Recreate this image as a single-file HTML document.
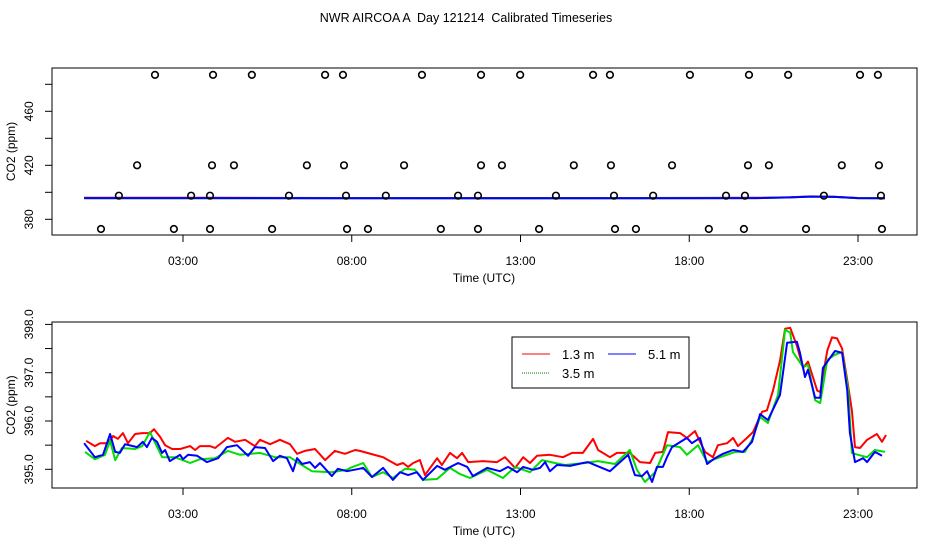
<!DOCTYPE html>
<html><head><meta charset="utf-8"><style>
html,body{margin:0;padding:0;background:#fff}
svg{display:block;font-family:"Liberation Sans",sans-serif}
</style></head><body>
<svg id="chart" width="936" height="540" viewBox="0 0 936 540" xmlns="http://www.w3.org/2000/svg">
<text x="466" y="22" font-size="12.5" text-anchor="middle" style="white-space:pre">NWR AIRCOA A  Day 121214  Calibrated Timeseries</text>
<g id="top"></g>
<g id="bot"></g>
</svg>
<script>
// ---- data ----
const xTickHours = [3, 8, 13, 18, 23];
const xTickLabels = ["03:00", "08:00", "13:00", "18:00", "23:00"];
const topYTicks = [380, 400, 420, 440, 460, 480];
const topYLabels = ["380", "", "420", "", "460", ""];
const botYTicks = [395.0, 395.5, 396.0, 396.5, 397.0, 397.5, 398.0];
const botYLabels = ["395.0", "", "396.0", "", "397.0", "", "398.0"];

const calT489 = [2.17,3.89,5.04,7.21,7.74,10.08,11.83,12.99,15.15,15.65,18.02,19.77,20.93,23.06,23.59];
const calT420 = [1.64,3.86,4.51,6.67,7.77,9.55,11.83,12.45,14.58,15.68,17.49,19.74,20.36,22.52,23.62];
const calT397 = [1.10,3.24,3.80,6.14,7.83,9.01,11.15,11.74,14.05,15.77,16.93,19.09,19.65,21.99,23.68];
const calT373 = [0.57,2.73,3.80,5.64,7.86,8.48,10.64,11.74,13.55,15.80,16.42,18.58,19.62,21.46,23.71];
const calLevels = [487, 420, 397.5, 372.8];

const topT = [0.07, 4, 8, 12, 16, 20, 21, 21.6, 22.3, 23, 23.8];
const topRed = [395.9, 395.9, 395.8, 395.8, 395.8, 395.9, 396.3, 397.0, 396.7, 395.8, 395.7];
const topGreen = [395.6, 395.6, 395.6, 395.5, 395.6, 395.7, 396.2, 396.9, 396.6, 395.6, 395.6];
const topBlue = [395.7, 395.7, 395.6, 395.6, 395.6, 395.7, 396.2, 396.8, 396.6, 395.7, 395.6];

const redT = [0.13,0.39,0.54,0.78,0.93,1.07,1.22,1.37,1.58,1.79,2.02,2.14,2.32,2.47,2.68,2.92,3.21,3.36,3.50,3.80,3.95,4.33,4.54,4.84,5.13,5.28,5.58,5.87,6.17,6.38,6.61,6.91,7.21,7.50,7.80,8.10,8.24,8.93,9.34,9.52,9.67,9.82,10.02,10.17,10.53,10.67,10.91,11.12,11.27,11.45,11.89,12.30,12.54,12.84,13.08,13.28,13.49,13.87,14.26,14.53,14.85,15.15,15.30,15.65,15.86,16.24,16.54,16.84,16.99,17.22,17.37,17.73,17.93,18.17,18.32,18.47,18.70,18.85,19.12,19.30,19.44,19.71,19.89,20.16,20.30,20.48,20.69,20.84,20.99,21.19,21.37,21.52,21.79,21.88,22.09,22.23,22.38,22.53,22.68,22.82,22.91,23.06,23.27,23.56,23.71,23.83];
const redV = [395.59,395.48,395.54,395.54,395.69,395.63,395.75,395.54,395.73,395.75,395.75,395.83,395.67,395.50,395.42,395.42,395.48,395.40,395.48,395.48,395.44,395.65,395.57,395.61,395.48,395.61,395.52,395.61,395.52,395.32,395.38,395.42,395.19,395.38,395.32,395.40,395.38,395.25,395.09,395.13,395.05,395.13,395.19,394.88,395.23,395.09,395.34,395.23,395.34,395.15,395.17,395.15,395.25,395.03,395.25,395.13,395.28,395.30,395.25,395.34,395.34,395.63,395.40,395.25,395.34,395.34,395.15,395.13,395.34,395.36,395.77,395.75,395.65,395.79,395.57,395.36,395.25,395.50,395.54,395.65,395.48,395.65,395.77,396.19,396.22,396.63,397.25,397.91,397.93,397.56,397.10,397.23,396.63,396.60,397.46,397.73,397.71,397.50,396.85,396.22,395.46,395.44,395.61,395.73,395.57,395.71];

const greenT = [0.10,0.39,0.69,0.84,0.99,1.19,1.58,1.79,2.02,2.38,2.76,3.21,3.50,3.95,4.33,4.69,5.28,5.73,6.17,6.47,6.82,7.41,7.86,7.95,8.34,8.60,8.93,9.22,9.58,9.87,10.11,10.53,10.91,11.21,11.50,12.01,12.48,12.84,13.28,13.64,14.02,14.32,14.91,15.30,15.80,16.24,16.45,16.69,16.99,17.34,17.73,17.93,18.26,18.53,18.91,19.36,19.65,19.86,20.10,20.33,20.63,20.84,20.99,21.07,21.37,21.52,21.73,21.88,22.09,22.32,22.53,22.71,22.82,23.00,23.27,23.50,23.80];
const greenV = [395.36,395.21,395.30,395.59,395.19,395.44,395.42,395.48,395.77,395.25,395.25,395.13,395.21,395.23,395.38,395.30,395.34,395.25,395.25,395.11,394.96,394.94,394.99,395.03,395.13,394.84,394.94,394.82,395.01,394.99,394.78,394.80,395.03,394.90,394.82,394.99,394.82,395.05,394.94,395.19,395.13,395.09,395.13,395.17,395.11,395.40,394.99,394.74,394.94,395.50,395.46,395.30,395.50,395.15,395.25,395.36,395.36,395.61,396.08,395.96,396.54,397.89,397.83,397.43,397.12,397.16,396.43,396.37,397.27,397.37,397.43,396.64,395.34,395.30,395.25,395.40,395.36];

const blueT = [0.07,0.39,0.63,0.84,0.99,1.13,1.28,1.64,1.81,1.93,2.08,2.23,2.38,2.47,2.61,2.91,3.00,3.15,3.42,3.71,4.04,4.30,4.60,4.93,5.13,5.43,5.67,5.87,6.08,6.26,6.38,6.53,6.76,6.91,7.06,7.41,7.59,7.86,8.22,8.34,8.60,8.93,9.22,9.43,9.67,9.93,10.11,10.53,10.76,11.15,11.42,11.59,12.01,12.39,12.63,12.90,13.08,13.37,13.58,13.73,13.87,14.08,14.47,14.85,15.00,15.27,15.65,16.19,16.39,16.60,16.75,16.90,17.04,17.22,17.34,17.49,17.93,18.08,18.32,18.53,18.76,19.00,19.30,19.59,19.86,20.10,20.33,20.69,20.90,21.19,21.28,21.43,21.52,21.73,21.88,21.96,22.32,22.53,22.68,22.76,22.91,23.15,23.27,23.50,23.71];
const blueV = [395.54,395.25,395.30,395.73,395.36,395.34,395.52,395.46,395.57,395.46,395.65,395.57,395.34,395.40,395.17,395.30,395.21,395.30,395.28,395.15,395.23,395.46,395.50,395.28,395.46,395.44,395.17,395.28,395.23,394.96,395.23,395.11,395.15,395.03,395.13,394.86,395.01,394.96,395.01,395.03,394.84,395.03,394.78,394.94,394.88,394.94,394.78,395.07,394.99,395.13,395.05,394.86,395.03,394.96,395.05,394.94,395.05,394.99,395.03,395.15,394.96,395.09,395.07,395.13,395.15,395.07,394.96,395.30,394.88,394.86,394.96,394.74,395.05,395.05,395.25,395.46,395.65,395.54,395.65,395.11,395.23,395.32,395.40,395.36,395.57,396.14,396.02,396.54,397.62,397.64,397.41,396.91,397.06,396.48,396.48,397.10,397.45,397.41,396.64,395.75,395.15,395.23,395.15,395.36,395.28];

// ---- drawing ----
const NS = "http://www.w3.org/2000/svg";
function mk(parent, tag, attrs, text) {
  const e = document.createElementNS(NS, tag);
  for (const k in attrs) e.setAttribute(k, attrs[k]);
  if (text !== undefined) e.textContent = text;
  parent.appendChild(e);
  return e;
}
const xScale = h => 81.75 + h * 33.75;
const topY = v => 219.3 - (v - 380) * 1.35;
const botY = v => 469.3 - (v - 395) * 48.3;
const L = 52, R = 917;

function axes(g, top, bottom, yTicks, yLabels, yFn, labelX) {
  const box = mk(g, "rect", {x: L, y: top, width: R - L, height: bottom - top, fill: "none", stroke: "#000", "stroke-width": 1});
  
  
  xTickHours.forEach((h, i) => {
    const x = xScale(h);
    const t = mk(g, "line", {x1: x, x2: x, y1: bottom, y2: bottom + 7, stroke: "#000"});
    
    
    const lb = mk(g, "text", {x: x, y: bottom + 30, "font-size": 12, "text-anchor": "middle"}, xTickLabels[i]);
    
    
  });
  const xt = mk(g, "text", {x: 484, y: bottom + 47, "font-size": 12, "text-anchor": "middle"}, "Time (UTC)");
  
  
  yTicks.forEach((v, i) => {
    const y = yFn(v);
    const t = mk(g, "line", {x1: L - 7, x2: L, y1: y, y2: y, stroke: "#000"});
    
    
    if (yLabels[i]) {
      const lb = mk(g, "text", {x: 0, y: 0, "font-size": 12, "text-anchor": "middle", transform: `translate(${labelX},${y}) rotate(-90)`}, yLabels[i]);
      
      
    }
  });
  const yt = mk(g, "text", {x: 0, y: 0, "font-size": 12, "text-anchor": "middle", transform: `translate(15,${(top + bottom) / 2}) rotate(-90)`}, "CO2 (ppm)");
  
  
}
function series(g, ts, vs, yFn, color, name, w) {
  const d = ts.map((t, i) => (i ? "L" : "M") + xScale(t).toFixed(1) + "," + yFn(vs[i]).toFixed(1)).join("");
  const p = mk(g, "path", {d: d, fill: "none", stroke: color, "stroke-width": w, "stroke-linejoin": "round"});
  
  
}

const gt = document.getElementById("top");
axes(gt, 68, 235, topYTicks, topYLabels, topY, 33);
series(gt, topT, topRed, topY, "#ff0000", "top-line-1-3m", 2);
series(gt, topT, topGreen, topY, "#00cc00", "top-line-3-5m", 2);
series(gt, topT, topBlue, topY, "#0000ff", "top-line-5-1m", 2);
[calT489, calT420, calT397, calT373].forEach((arr, k) => {
  arr.forEach(t => {
    const c = mk(gt, "circle", {cx: xScale(t), cy: topY(calLevels[k]), r: 3.3, fill: "none", stroke: "#000", "stroke-width": 1.6});
    
    
  });
});

const gb = document.getElementById("bot");
axes(gb, 322, 488, botYTicks, botYLabels, botY, 33);
series(gb, redT, redV, botY, "#ff0000", "line-1-3m", 2);
series(gb, greenT, greenV, botY, "#00dd00", "line-3-5m", 2);
series(gb, blueT, blueV, botY, "#0000ff", "line-5-1m", 2);

// legend
const lg = mk(gb, "g", {});


const lr = mk(lg, "rect", {x: 512, y: 337, width: 177, height: 51, fill: "#fff", stroke: "#000"});


const ents = [["1.3 m", "#ff0000", 522, 354, null], ["5.1 m", "#0000ff", 608, 354, null], ["3.5 m", "#007700", 522, 373, "1,1"]];
ents.forEach(e => {
  const ln = mk(lg, "line", {x1: e[2], x2: e[2] + 28, y1: e[3], y2: e[3], stroke: e[1], "stroke-width": 1});
  if (e[4]) ln.setAttribute("stroke-dasharray", e[4]);
  
  
  const tx = mk(lg, "text", {x: e[2] + 40, y: e[3] + 5, "font-size": 13}, e[0]);
  
  
});
</script>
</body></html>
